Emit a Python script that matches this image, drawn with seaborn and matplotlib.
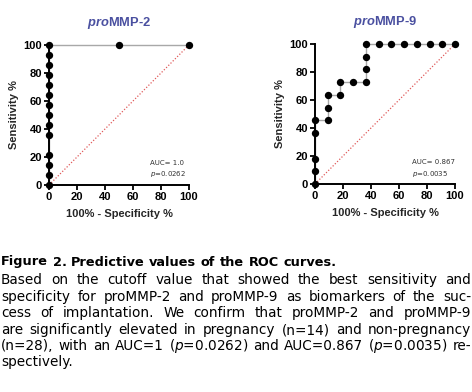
import matplotlib
matplotlib.use("Agg")
import matplotlib.pyplot as plt
import seaborn as sns
import pandas as pd

# ROC points (100% - specificity, sensitivity)
mmp2_fpr = [0, 0, 0, 0, 0, 0, 0, 0, 0, 0, 0, 0, 0, 0, 50, 100]
mmp2_tpr = [0, 7.14, 14.29, 21.43, 35.71, 42.86, 50.0, 57.14, 64.29, 71.43,
            78.57, 85.71, 92.86, 100, 100, 100]

mmp9_fpr = [0, 0, 0, 0, 0, 9.09, 9.09, 9.09, 18.18, 18.18, 27.27, 36.36, 36.36,
            36.36, 36.36, 45.45, 54.55, 63.64, 72.73, 81.82, 90.91, 100]
mmp9_tpr = [0, 9.09, 18.18, 36.36, 45.45, 45.45, 54.55, 63.64, 63.64, 72.73,
            72.73, 72.73, 81.82, 90.91, 100, 100, 100, 100, 100, 100, 100, 100]

panel_titles = ["MMP-2", "MMP-9"]
auc_labels = ["AUC= 1.0", "AUC= 0.867"]
p_labels = ["0.0262", "0.0035"]
ticks = [0, 20, 40, 60, 80, 100]

caption_title = "Figure 2. Predictive values of the ROC curves."
caption_lines = [
    "Based on the cutoff value that showed the best sensitivity and",
    "specificity for proMMP-2 and proMMP-9 as biomarkers of the suc-",
    "cess of implantation. We confirm that proMMP-2 and proMMP-9",
    "are significantly elevated in pregnancy (n=14) and non-pregnancy",
    "(n=28), with an AUC=1 ($\\it{p}$=0.0262) and AUC=0.867 ($\\it{p}$=0.0035) re-",
    "spectively.",
]

sns.set_style("ticks")
plt.rcParams["font.family"] = ["Liberation Sans", "DejaVu Sans"]
plt.rcParams["mathtext.fontset"] = "custom"
plt.rcParams["mathtext.rm"] = "DejaVu Sans"
plt.rcParams["mathtext.it"] = "DejaVu Sans:italic"
plt.rcParams["mathtext.bfit"] = "Liberation Sans:italic:bold"

fig = plt.figure(figsize=(4.72, 3.92), dpi=100)
W, H = 472, 392
boxes = [(49, 45), (315, 44)]
data = [(mmp2_fpr, mmp2_tpr), (mmp9_fpr, mmp9_tpr)]
ann_x = [72, 69]

for i, ((left, top), (fx, ty)) in enumerate(zip(boxes, data)):
    ax = fig.add_axes([left / W, 1 - (top + 140) / H, 140 / W, 140 / H])
    df = pd.DataFrame({"fpr": fx, "tpr": ty})
    ax.plot([0, 100], [0, 100], ls=(0, (1, 1.5)), color="#e05a5a", lw=0.9, zorder=1)
    sns.lineplot(data=df, x="fpr", y="tpr", sort=False, estimator=None,
                 errorbar=None, color="#a8a8a8", lw=1.0, ax=ax, zorder=2,
                 clip_on=False)
    sns.scatterplot(data=df, x="fpr", y="tpr", color="black", s=28, linewidth=0,
                    ax=ax, zorder=3, clip_on=False)
    ax.set_xlim(0, 100)
    ax.set_ylim(0, 100)
    ax.set_xticks(ticks)
    ax.set_yticks(ticks)
    sns.despine(ax=ax)
    for sp in ["left", "bottom"]:
        ax.spines[sp].set_linewidth(1.4)
        ax.spines[sp].set_color("black")
    ax.tick_params(width=1.3, length=3.5, pad=1.5, labelsize=8, colors="black")
    for lab in ax.get_xticklabels() + ax.get_yticklabels():
        lab.set_fontweight("bold")
    ax.set_xlabel("100% - Specificity %", fontsize=8, fontweight="bold", labelpad=5)
    ax.set_ylabel("Sensitivity %", fontsize=8, fontweight="bold", labelpad=3)
    ax.set_title("$\\mathbfit{pro}$" + panel_titles[i], fontsize=9.3, fontweight="bold",
                 color="#4a50a0", pad=14)
    ax.text(ann_x[i], 15.5, auc_labels[i], fontsize=5, color="#333333",
            family="DejaVu Sans", va="center")
    ax.text(ann_x[i], 7.5, "$\\it{p}$=" + p_labels[i], fontsize=5, color="#333333",
            family="DejaVu Sans", va="center")

# caption, justified word by word
renderer = fig.canvas.get_renderer()


def place_line(words, y, justify, weight="normal", size=9.8):
    font = dict(family="DejaVu Sans", fontsize=size, color="black", va="center",
                fontweight=weight)
    texts = [fig.text(0, 1 - y / H, w, **font) for w in words]
    widths = [t.get_window_extent(renderer).width for t in texts]
    if justify and len(words) > 1:
        gap = (471 - 1 - sum(widths)) / (len(words) - 1)
    else:
        sp = fig.text(0, 0, "a b", **font)
        sp2 = fig.text(0, 0, "ab", **font)
        gap = sp.get_window_extent(renderer).width - sp2.get_window_extent(renderer).width
        sp.remove()
        sp2.remove()
    x = 1
    for t, w in zip(texts, widths):
        t.set_x(x / W)
        x += w + gap


place_line(caption_title.split(" "), 262, False, weight="bold", size=9.3)
ys = [280, 297, 313, 330, 346, 362]
for k, (line, y) in enumerate(zip(caption_lines, ys)):
    place_line(line.split(" "), y, k < len(caption_lines) - 1)

fig.savefig("out.png", dpi=100)
